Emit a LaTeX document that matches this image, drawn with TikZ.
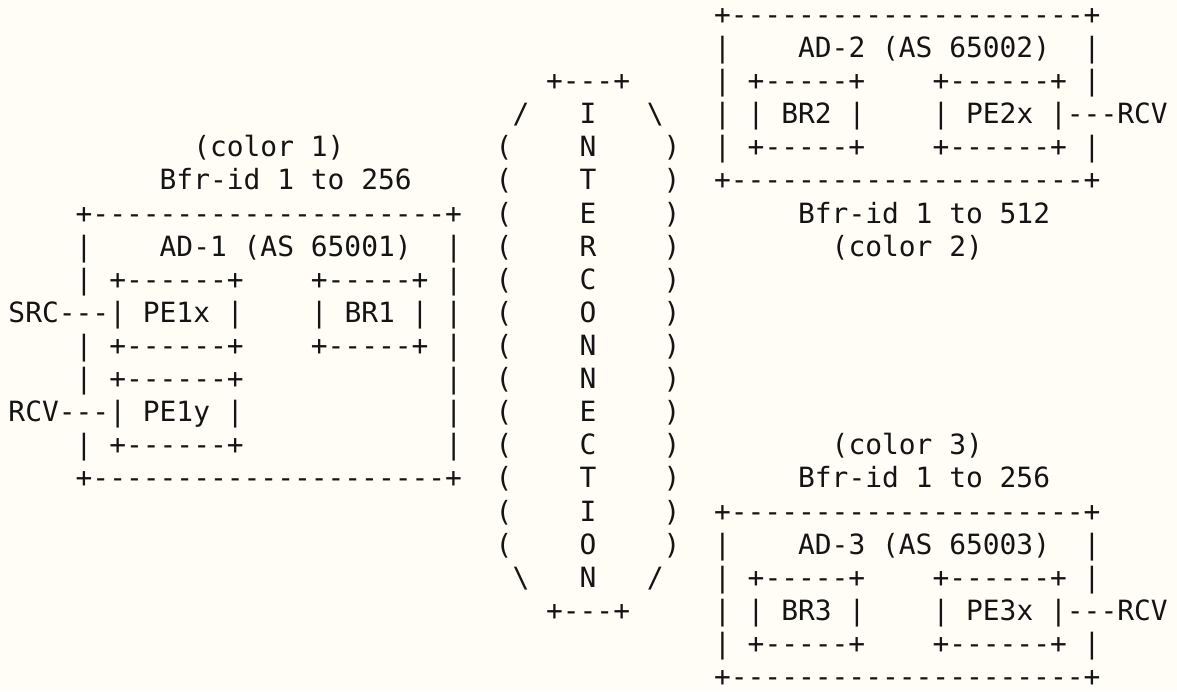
\documentclass[tikz,border=0pt]{standalone}
\usepackage{fontspec}
\setmonofont{DejaVu Sans Mono}
\definecolor{bg}{RGB}{255,253,246}
\definecolor{ink}{RGB}{20,20,20}
\tikzset{txt/.style={anchor=base west,inner sep=0pt,outer sep=0pt,text depth=0pt,text=ink,font=\ttfamily\fontsize{27.9}{33}\selectfont}}
\newcommand\tx[3]{\node[txt] (r#2c#1) at ({8.5+#1*16.8},{666.5-#2*33.1}) {#3};}
\newcommand\dashline{+---------------------+}
\begin{document}
\begin{tikzpicture}[x=1pt,y=1pt]
\fill[bg] (0,0) rectangle (1177,691);
\useasboundingbox (0,0) rectangle (1177,691);
% AD-2
\tx{42}{0}{\dashline}
\tx{42}{1}{|}\tx{47}{1}{AD-2 (AS 65002)}\tx{64}{1}{|}
\tx{42}{2}{|}\tx{44}{2}{+-----+}\tx{55}{2}{+------+}\tx{64}{2}{|}
\tx{42}{3}{|}\tx{44}{3}{|}\tx{46}{3}{BR2}\tx{50}{3}{|}\tx{55}{3}{|}\tx{57}{3}{PE2x}\tx{62}{3}{|---RCV}
\tx{42}{4}{|}\tx{44}{4}{+-----+}\tx{55}{4}{+------+}\tx{64}{4}{|}
\tx{42}{5}{\dashline}
\tx{47}{6}{Bfr-id 1 to 512}
\tx{49}{7}{(color 2)}
% AD-1
\tx{11}{4}{(color 1)}
\tx{9}{5}{Bfr-id 1 to 256}
\tx{4}{6}{\dashline}
\tx{4}{7}{|}\tx{9}{7}{AD-1 (AS 65001)}\tx{26}{7}{|}
\tx{4}{8}{|}\tx{6}{8}{+------+}\tx{18}{8}{+-----+}\tx{26}{8}{|}
\tx{0}{9}{SRC---|}\tx{8}{9}{PE1x}\tx{13}{9}{|}\tx{18}{9}{|}\tx{20}{9}{BR1}\tx{24}{9}{|}\tx{26}{9}{|}
\tx{4}{10}{|}\tx{6}{10}{+------+}\tx{18}{10}{+-----+}\tx{26}{10}{|}
\tx{4}{11}{|}\tx{6}{11}{+------+}\tx{26}{11}{|}
\tx{0}{12}{RCV---|}\tx{8}{12}{PE1y}\tx{13}{12}{|}\tx{26}{12}{|}
\tx{4}{13}{|}\tx{6}{13}{+------+}\tx{26}{13}{|}
\tx{4}{14}{\dashline}
% interconnection
\tx{32}{2}{+---+}
\tx{30}{3}{/}\tx{38}{3}{\textbackslash}
\foreach \r in {4,...,16} {\tx{29}{\r}{(}\tx{39}{\r}{)}}
\foreach \r/\l in {3/I,4/N,5/T,6/E,7/R,8/C,9/O,10/N,11/N,12/E,13/C,14/T,15/I,16/O,17/N} {\tx{34}{\r}{\l}}
\tx{30}{17}{\textbackslash}\tx{38}{17}{/}
\tx{32}{18}{+---+}
% AD-3
\tx{49}{13}{(color 3)}
\tx{47}{14}{Bfr-id 1 to 256}
\tx{42}{15}{\dashline}
\tx{42}{16}{|}\tx{47}{16}{AD-3 (AS 65003)}\tx{64}{16}{|}
\tx{42}{17}{|}\tx{44}{17}{+-----+}\tx{55}{17}{+------+}\tx{64}{17}{|}
\tx{42}{18}{|}\tx{44}{18}{|}\tx{46}{18}{BR3}\tx{50}{18}{|}\tx{55}{18}{|}\tx{57}{18}{PE3x}\tx{62}{18}{|---RCV}
\tx{42}{19}{|}\tx{44}{19}{+-----+}\tx{55}{19}{+------+}\tx{64}{19}{|}
\tx{42}{20}{\dashline}
\end{tikzpicture}
\end{document}
